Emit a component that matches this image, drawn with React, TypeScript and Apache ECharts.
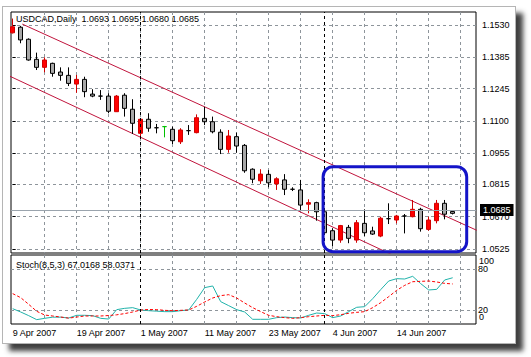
import React, { useEffect, useRef } from 'react';
import * as echarts from 'echarts';

// ---------- data ----------
const symbol = 'USDCAD';
const timeframe = 'Daily';

const opens = [
  1.1495, 1.1520, 1.1466, 1.1376, 1.1340, 1.1358, 1.1319, 1.1304, 1.1265, 1.1286,
  1.1220, 1.1211, 1.1211, 1.1141, 1.1215, 1.1152, 1.1044, 1.1107, 1.1069, 1.1074,
  1.1062, 1.1006, 1.1056, 1.1047, 1.1111, 1.1096, 1.1049, 1.0972, 1.1029, 1.0990,
  1.0883, 1.0831, 1.0860, 1.0817, 1.0835, 1.0793, 1.0790, 1.0726, 1.0733, 1.0692,
  1.0607, 1.0565, 1.0622, 1.0565, 1.0640, 1.0606, 1.0583, 1.0661, 1.0655, 1.0673,
  1.0670, 1.0703, 1.0613, 1.0652, 1.0730, 1.0693,
];
const highs = [
  1.1559, 1.1526, 1.1470, 1.1406, 1.1385, 1.1361, 1.1340, 1.1340, 1.1306, 1.1298,
  1.1242, 1.1238, 1.1224, 1.1216, 1.1224, 1.1197, 1.1113, 1.1134, 1.1086, 1.1077,
  1.1074, 1.1067, 1.1081, 1.1129, 1.1163, 1.1119, 1.1062, 1.1059, 1.1047, 1.0996,
  1.0887, 1.0883, 1.0879, 1.0847, 1.0861, 1.0802, 1.0835, 1.0748, 1.0737, 1.0709,
  1.0618, 1.0633, 1.0633, 1.0655, 1.0703, 1.0625, 1.0670, 1.0730, 1.0678, 1.0682,
  1.0745, 1.0710, 1.0670, 1.0745, 1.0745, 1.0695,
];
const lows = [
  1.1492, 1.1448, 1.1370, 1.1328, 1.1318, 1.1298, 1.1280, 1.1256, 1.1226, 1.1206,
  1.1206, 1.1194, 1.1134, 1.1140, 1.1119, 1.1041, 1.1023, 1.1051, 1.1044, 1.1026,
  1.0996, 1.0996, 1.1037, 1.1044, 1.1081, 1.1044, 1.0951, 1.0957, 1.0957, 1.0867,
  1.0820, 1.0817, 1.0802, 1.0790, 1.0767, 1.0785, 1.0700, 1.0685, 1.0652, 1.0588,
  1.0538, 1.0553, 1.0551, 1.0553, 1.0583, 1.0588, 1.0578, 1.0637, 1.0640, 1.0595,
  1.0667, 1.0603, 1.0607, 1.0640, 1.0658, 1.0680,
];
const closes = [
  1.1522, 1.1463, 1.1373, 1.1340, 1.1373, 1.1313, 1.1304, 1.1268, 1.1286, 1.1231,
  1.1211, 1.1211, 1.1143, 1.1211, 1.1156, 1.1089, 1.1107, 1.1067, 1.1069, 1.1074,
  1.1011, 1.1059, 1.1056, 1.1114, 1.1096, 1.1051, 1.0972, 1.1032, 1.0987, 1.0876,
  1.0838, 1.0861, 1.0822, 1.0840, 1.0793, 1.0793, 1.0722, 1.0733, 1.0692, 1.0598,
  1.0565, 1.0630, 1.0573, 1.0643, 1.0598, 1.0592, 1.0663, 1.0661, 1.0673, 1.0673,
  1.0703, 1.0616, 1.0655, 1.0730, 1.0681, 1.0685,
];
const greenDojiBars = [19];

const stochParams = '8,5,3';
const stochMain = [
  22.2, 17.4, 12.1, 6.3, 8.2, 9.9, 9.9, 8.7, 12.6, 12.6,
  12.1, 8.2, 7.2, 20.8, 22.7, 23.7, 20.3, 19.3, 18.6, 17.9,
  17.9, 19.3, 20.3, 35.7, 52.7, 55.1, 32.4, 26.6, 20.8, 17.4,
  6.8, 6.8, 6.8, 9.2, 10.1, 9.2, 8.7, 12.6, 15.9, 15.0,
  9.2, 11.6, 17.9, 24.2, 25.1, 36.7, 49.8, 62.3, 65.7, 65.2,
  69.1, 58.5, 49.3, 50.2, 63.8, 67.0168,
];
const stochSignal = [
  44.0, 38.2, 28.5, 18.4, 13.0, 11.6, 10.1, 8.5, 10.1, 11.6,
  11.6, 11.6, 12.3, 13.3, 15.1, 17.4, 20.3, 21.0, 20.8, 19.8,
  19.3, 19.8, 20.3, 25.6, 31.9, 37.7, 41.1, 42.5, 37.7, 30.4,
  23.7, 17.9, 12.6, 10.6, 9.2, 8.2, 9.2, 10.6, 11.6, 12.6,
  12.1, 13.5, 15.5, 16.9, 17.9, 23.7, 30.9, 39.6, 48.8, 56.0,
  61.3, 61.8, 62.3, 60.9, 58.9, 58.0371,
];

const dateLabelBars = [0, 8, 16, 24, 32, 40, 48];
const dateLabels = ['9 Apr 2007', '19 Apr 2007', '1 May 2007', '11 May 2007', '23 May 2007', '4 Jun 2007', '14 Jun 2007'];
const monthSeparatorBars = [16, 39];
const gridBars = [4, 8, 12, 16, 20, 24, 28, 32, 36, 40, 44, 48, 52, 56];
const priceTicks = [1.0525, 1.0670, 1.0815, 1.0955, 1.1100, 1.1245, 1.1385, 1.1530];
const stochLevels = [20, 80];
const stochMax = [100];
const stochMin = [0];

// drawn objects (bar index, price)
const upperChannel = [[1.2, 1.1534], [58, 1.0609]];
const lowerChannel = [[-1, 1.1311], [50, 1.0456]];
const highlightBox = [38.8, 1.0894, 56.75, 1.0513];

// ---------- layout ----------
const FONT = '"Liberation Sans", Arial, sans-serif';
const X_MIN = -0.2125;
const X_MAX = 57.9125;
const Y_MIN = 1.050705;
const Y_MAX = 1.158833;

const gridLine = { color: '#8e959b', type: [3, 3] as any, width: 1 };

function buildOption() {
  const last = closes.length - 1;
  const candleData = opens.map((o, i) => {
    const item: any = { value: [i, o, closes[i], lows[i], highs[i]] };
    if (o === closes[i]) {
      const c = greenDojiBars.includes(i) ? '#00c000' : '#000000';
      item.itemStyle = { color: c, color0: c, borderColor: c, borderColor0: c, borderColorDoji: c };
    }
    return item;
  });
  const header = `${symbol},${timeframe}  ${opens[last].toFixed(4)} ${highs[last].toFixed(4)} ${lows[last].toFixed(4)} ${closes[last].toFixed(4)}`;
  const stochHeader = `Stoch(${stochParams}) ${stochMain[last].toFixed(4)} ${stochSignal[last].toFixed(4)}`;
  const sepLines = monthSeparatorBars.map((b) => ({
    xAxis: b,
    lineStyle: { color: '#000', type: [3, 3], width: 1 },
    label: { show: false },
  }));
  const txt = { fontFamily: FONT, fontSize: 9, color: '#000', fontWeight: 'normal' as const };
  const stochAxisBase = {
    type: 'value', gridIndex: 1, position: 'right', offset: 0, min: 0, max: 100,
    axisLine: { show: false },
  };

  return {
    animation: false,
    textStyle: { fontFamily: FONT },
    title: [
      { text: header, left: 16, top: 14, padding: 0, textStyle: txt },
      { text: stochHeader, left: 16, top: 260, padding: 0, textStyle: txt },
    ],
    grid: [
      { left: 11, top: 12, width: 465, height: 241, show: true, borderColor: '#000', borderWidth: 1, backgroundColor: 'transparent' },
      { left: 11, top: 255, width: 465, height: 69, show: true, borderColor: '#000', borderWidth: 1, backgroundColor: 'transparent' },
    ],
    xAxis: [
      {
        type: 'value', gridIndex: 0, min: X_MIN, max: X_MAX,
        axisLine: { show: false },
        axisTick: { show: false, customValues: gridBars },
        axisLabel: { show: false },
        splitLine: { show: true, lineStyle: gridLine },
      },
      {
        type: 'value', gridIndex: 1, min: X_MIN, max: X_MAX,
        axisLine: { show: false },
        axisTick: { show: false, customValues: gridBars },
        axisLabel: {
          show: true, customValues: dateLabelBars, align: 'left', margin: 4, ...txt,
          showMinLabel: true, showMaxLabel: true,
          formatter: (v: number) => {
            const k = dateLabelBars.indexOf(Math.round(v));
            return k >= 0 ? dateLabels[k] : '';
          },
        },
        splitLine: { show: true, lineStyle: gridLine },
      },
    ],
    yAxis: [
      {
        type: 'value', gridIndex: 0, position: 'right', min: Y_MIN, max: Y_MAX,
        axisLine: { show: false },
        axisTick: { show: true, length: 3, customValues: priceTicks, lineStyle: { color: '#000' } },
        axisLabel: {
          show: true, customValues: priceTicks, margin: 6, ...txt,
          showMinLabel: true, showMaxLabel: true,
          formatter: (v: number) => v.toFixed(4),
        },
        splitLine: { show: true, lineStyle: gridLine },
      },
      {
        ...stochAxisBase,
        axisTick: { show: false, customValues: stochLevels },
        axisLabel: {
          show: true, customValues: stochLevels, margin: 2, ...txt, lineHeight: 9,
          showMinLabel: true, showMaxLabel: true,
          formatter: (v: number) => String(v),
        },
        splitLine: { show: true, lineStyle: gridLine },
      },
      {
        ...stochAxisBase,
        axisTick: { show: false, customValues: stochMax },
        axisLabel: {
          show: true, customValues: stochMax, margin: 3, ...txt, lineHeight: 9,
          verticalAlign: 'top', padding: [1, 0, 0, 0],
          showMinLabel: true, showMaxLabel: true,
          formatter: (v: number) => String(v),
        },
        splitLine: { show: false },
      },
      {
        ...stochAxisBase,
        axisTick: { show: false, customValues: stochMin },
        axisLabel: {
          show: true, customValues: stochMin, margin: 3, ...txt, lineHeight: 9,
          verticalAlign: 'bottom', padding: [0, 0, 3, 0],
          showMinLabel: true, showMaxLabel: true,
          formatter: (v: number) => String(v),
        },
        splitLine: { show: false },
      },
    ],
    series: [
      {
        type: 'candlestick', xAxisIndex: 0, yAxisIndex: 0,
        barWidth: 4,
        data: candleData,
        itemStyle: {
          color: '#ff0000', color0: '#a8a8a8',
          borderColor: '#d00000', borderColor0: '#000000', borderWidth: 1,
        },
        markLine: {
          silent: true, symbol: ['none', 'none'], animation: false,
          data: [
            {
              yAxis: closes[last],
              lineStyle: { color: '#9aa4ad', type: 'solid', width: 1 },
              label: {
                show: true, position: 'end', distance: 4,
                formatter: closes[last].toFixed(4),
                backgroundColor: '#000', color: '#fff', padding: [2, 3, 1, 3],
                fontFamily: FONT, fontSize: 9,
              },
            },
            ...sepLines,
          ],
        },
        z: 3,
      },
      {
        type: 'line', xAxisIndex: 0, yAxisIndex: 0, data: upperChannel,
        showSymbol: false, symbol: 'none', lineStyle: { color: '#c0143c', width: 1 }, z: 2,
      },
      {
        type: 'line', xAxisIndex: 0, yAxisIndex: 0, data: lowerChannel,
        showSymbol: false, symbol: 'none', lineStyle: { color: '#c0143c', width: 1 }, z: 2,
      },
      {
        type: 'custom', xAxisIndex: 0, yAxisIndex: 0,
        data: [highlightBox],
        encode: { x: [0, 2], y: [1, 3] },
        renderItem: (_p: any, api: any) => {
          const p0 = api.coord([api.value(0), api.value(1)]);
          const p1 = api.coord([api.value(2), api.value(3)]);
          return {
            type: 'rect',
            shape: { x: p0[0], y: p0[1], width: p1[0] - p0[0], height: p1[1] - p0[1], r: 10 },
            style: { fill: 'none', stroke: '#1414c8', lineWidth: 3 },
          };
        },
        z: 5,
      },
      {
        type: 'line', xAxisIndex: 1, yAxisIndex: 1,
        data: stochMain.map((v, i) => [i, v]),
        showSymbol: false, symbol: 'none', lineStyle: { color: '#20b2aa', width: 1 },
        markLine: { silent: true, symbol: ['none', 'none'], animation: false, data: sepLines },
      },
      {
        type: 'line', xAxisIndex: 1, yAxisIndex: 1,
        data: stochSignal.map((v, i) => [i, v]),
        showSymbol: false, symbol: 'none', lineStyle: { color: '#ff0000', width: 1, type: [3, 2] },
      },
    ],
  };
}

export default function App() {
  const ref = useRef<HTMLDivElement>(null);
  useEffect(() => {
    if (!ref.current) return;
    const chart = echarts.init(ref.current, null, { renderer: 'svg' });
    chart.setOption(buildOption() as any);
    return () => chart.dispose();
  }, []);
  return (
    <div style={{ position: 'absolute', left: 0, top: 0, width: 531, height: 357, background: '#fff', overflow: 'hidden' }}>
      <div
        style={{
          position: 'absolute', left: 2, top: 6, width: 514, height: 338, boxSizing: 'border-box',
          border: '1px solid #b5b5b5', background: '#fff', boxShadow: '7px 7px 5px rgba(30,30,30,0.85)',
        }}
      />
      <div ref={ref} style={{ position: 'absolute', left: 0, top: 0, width: 531, height: 357 }} />
    </div>
  );
}
